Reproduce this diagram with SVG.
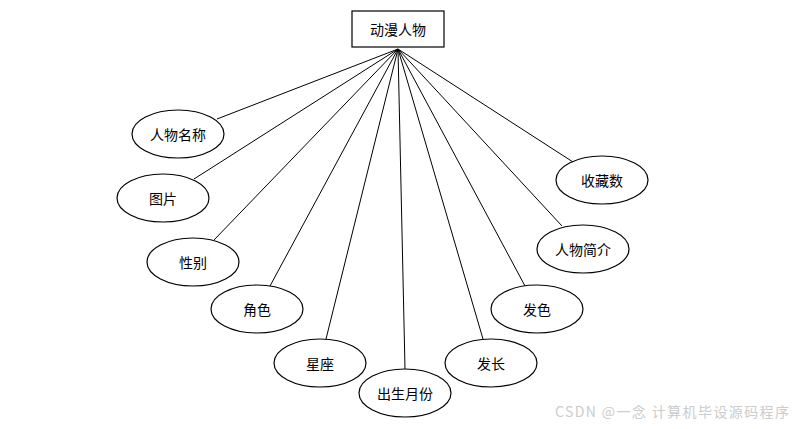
<svg xmlns="http://www.w3.org/2000/svg" width="800" height="429" viewBox="0 0 800 429">
<style>
.n{fill:#fff;stroke:#000;stroke-width:1.2}
.t{font-family:"Noto Sans CJK SC","Noto Sans",sans-serif;font-size:14px;fill:#000;text-anchor:middle;dominant-baseline:central}
.c line{stroke:#000;stroke-width:1}
.w{font-family:"Noto Sans CJK SC","Noto Sans",sans-serif;font-size:14px;fill:#cccccc}
</style>
<rect width="800" height="429" fill="#fff"/>
<g class="c" id="connectors">
<line x1="398" y1="49" x2="217" y2="119"/>
<line x1="398" y1="49" x2="194" y2="179"/>
<line x1="398" y1="49" x2="214" y2="240"/>
<line x1="398" y1="49" x2="270" y2="286"/>
<line x1="398" y1="49" x2="326" y2="339"/>
<line x1="398" y1="49" x2="405" y2="369"/>
<line x1="398" y1="49" x2="483" y2="339"/>
<line x1="398" y1="49" x2="525" y2="286"/>
<line x1="398" y1="49" x2="562" y2="226"/>
<line x1="398" y1="49" x2="573" y2="162"/>
</g>
<g id="entity"><rect class="n" x="352" y="11" width="92" height="36"/><text class="t" x="398" y="29">动漫人物</text></g>
<g id="a1"><ellipse class="n" cx="178" cy="134" rx="46" ry="24"/><text class="t" x="178" y="134">人物名称</text></g>
<g id="a2"><ellipse class="n" cx="163" cy="198" rx="46" ry="24"/><text class="t" x="163" y="198">图片</text></g>
<g id="a3"><ellipse class="n" cx="193" cy="262" rx="46" ry="24"/><text class="t" x="193" y="262">性别</text></g>
<g id="a4"><ellipse class="n" cx="257" cy="309" rx="46" ry="24"/><text class="t" x="257" y="309">角色</text></g>
<g id="a5"><ellipse class="n" cx="320" cy="363" rx="46" ry="24"/><text class="t" x="320" y="363">星座</text></g>
<g id="a6"><ellipse class="n" cx="405" cy="393" rx="46" ry="24"/><text class="t" x="405" y="393">出生月份</text></g>
<g id="a7"><ellipse class="n" cx="491" cy="363" rx="46" ry="24"/><text class="t" x="491" y="363">发长</text></g>
<g id="a8"><ellipse class="n" cx="537" cy="309" rx="46" ry="24"/><text class="t" x="537" y="309">发色</text></g>
<g id="a9"><ellipse class="n" cx="583" cy="249" rx="46" ry="24"/><text class="t" x="583" y="249">人物简介</text></g>
<g id="a10"><ellipse class="n" cx="602" cy="180" rx="46" ry="24"/><text class="t" x="602" y="180">收藏数</text></g>
<text class="w" x="555" y="417" textLength="234" lengthAdjust="spacing">CSDN @一念 计算机毕设源码程序</text>
</svg>
